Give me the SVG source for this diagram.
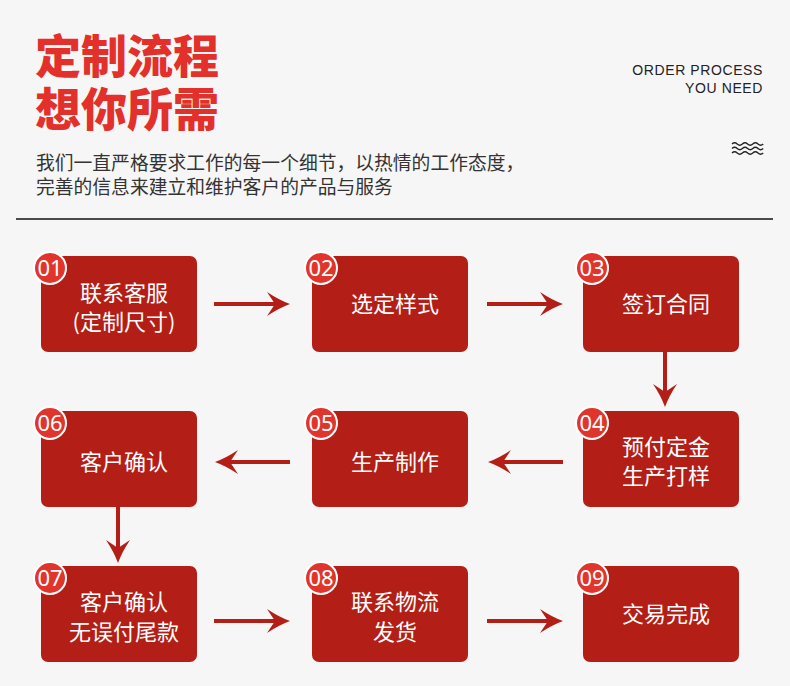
<svg xmlns="http://www.w3.org/2000/svg" width="790" height="686" viewBox="0 0 790 686">
<style>
.title{font-family:"Noto Sans CJK SC",sans-serif;font-weight:900;font-size:46px;fill:#e3302a}
.sub{font-family:"Noto Sans CJK SC",sans-serif;font-size:18.8px;fill:#333}
.en{font-family:"Liberation Sans",Arial,sans-serif;font-size:14px;fill:#222;letter-spacing:0.6px}
.box{fill:#b31f17}
.badge{fill:#e0352c;stroke:#fff;stroke-width:2}
.num{font-family:"Noto Sans","Liberation Sans",sans-serif;font-size:22px;fill:#fff;text-anchor:middle}
.lbl{font-family:"Noto Sans CJK SC",sans-serif;font-size:22px;fill:#fff;text-anchor:middle}
.conn line{stroke:#b31f17;stroke-width:4;marker-end:url(#ah)}
</style>
<defs>
<marker id="ah" markerUnits="userSpaceOnUse" viewBox="0 0 24 24" refX="15" refY="12" markerWidth="24" markerHeight="24" orient="auto">
<path d="M0,0 Q12,8 23,12 Q12,16 0,24 L8,12 Z" fill="#b31f17"/>
</marker>
</defs>
<rect width="790" height="686" fill="#f6f6f6"/>
<g id="header">
<text class="title" x="35" y="73">定制流程</text>
<text class="title" x="35" y="126">想你所需</text>
<text class="en" x="763" y="75" text-anchor="end">ORDER PROCESS</text>
<text class="en" x="763" y="93" text-anchor="end">YOU NEED</text>
<g fill="none" stroke="#222" stroke-width="1.3">
<path d="M732,144 q2.6,-2.5 5.2,0 t5.2,0 t5.2,0 t5.2,0 t5.2,0 t5.2,0"/>
<path d="M732,148.5 q2.6,-2.5 5.2,0 t5.2,0 t5.2,0 t5.2,0 t5.2,0 t5.2,0"/>
<path d="M732,153 q2.6,-2.5 5.2,0 t5.2,0 t5.2,0 t5.2,0 t5.2,0 t5.2,0"/>
</g>
<text class="sub" x="36" y="170">我们一直严格要求工作的每一个细节，以热情的工作态度，</text>
<text class="sub" x="36" y="194">完善的信息来建立和维护客户的产品与服务</text>
<line x1="16" y1="219" x2="773" y2="219" stroke="#111" stroke-width="1.5"/>
</g>
<g id="connectors" class="conn">
<line x1="214" y1="304" x2="282" y2="304"/>
<line x1="487" y1="304" x2="555" y2="304"/>
<line x1="665" y1="352" x2="665" y2="399"/>
<line x1="563" y1="462" x2="496" y2="462"/>
<line x1="290" y1="462" x2="223" y2="462"/>
<line x1="118" y1="507" x2="118" y2="555"/>
<line x1="214" y1="621" x2="282" y2="621"/>
<line x1="487" y1="621" x2="555" y2="621"/>
</g>
<g id="n01"><rect class="box" x="41" y="256" width="156" height="96" rx="7"/><circle class="badge" cx="50" cy="268" r="16"/><text class="num" x="50" y="276">01</text><text class="lbl" x="124" y="301">联系客服</text><text class="lbl" x="124" y="330">(定制尺寸)</text></g>
<g id="n02"><rect class="box" x="312" y="256" width="156" height="96" rx="7"/><circle class="badge" cx="321" cy="268" r="16"/><text class="num" x="321" y="276">02</text><text class="lbl" x="395" y="312">选定样式</text></g>
<g id="n03"><rect class="box" x="583" y="256" width="156" height="96" rx="7"/><circle class="badge" cx="592" cy="268" r="16"/><text class="num" x="592" y="276">03</text><text class="lbl" x="666" y="312">签订合同</text></g>
<g id="n04"><rect class="box" x="583" y="411" width="156" height="96" rx="7"/><circle class="badge" cx="592" cy="423" r="16"/><text class="num" x="592" y="431">04</text><text class="lbl" x="666" y="455">预付定金</text><text class="lbl" x="666" y="484">生产打样</text></g>
<g id="n05"><rect class="box" x="312" y="411" width="156" height="96" rx="7"/><circle class="badge" cx="321" cy="423" r="16"/><text class="num" x="321" y="431">05</text><text class="lbl" x="395" y="470">生产制作</text></g>
<g id="n06"><rect class="box" x="41" y="411" width="156" height="96" rx="7"/><circle class="badge" cx="50" cy="423" r="16"/><text class="num" x="50" y="431">06</text><text class="lbl" x="124" y="470">客户确认</text></g>
<g id="n07"><rect class="box" x="41" y="566" width="156" height="96" rx="7"/><circle class="badge" cx="50" cy="578" r="16"/><text class="num" x="50" y="586">07</text><text class="lbl" x="124" y="610">客户确认</text><text class="lbl" x="124" y="640">无误付尾款</text></g>
<g id="n08"><rect class="box" x="312" y="566" width="156" height="96" rx="7"/><circle class="badge" cx="321" cy="578" r="16"/><text class="num" x="321" y="586">08</text><text class="lbl" x="395" y="610">联系物流</text><text class="lbl" x="395" y="640">发货</text></g>
<g id="n09"><rect class="box" x="583" y="566" width="156" height="96" rx="7"/><circle class="badge" cx="592" cy="578" r="16"/><text class="num" x="592" y="586">09</text><text class="lbl" x="666" y="622">交易完成</text></g>
</svg>
